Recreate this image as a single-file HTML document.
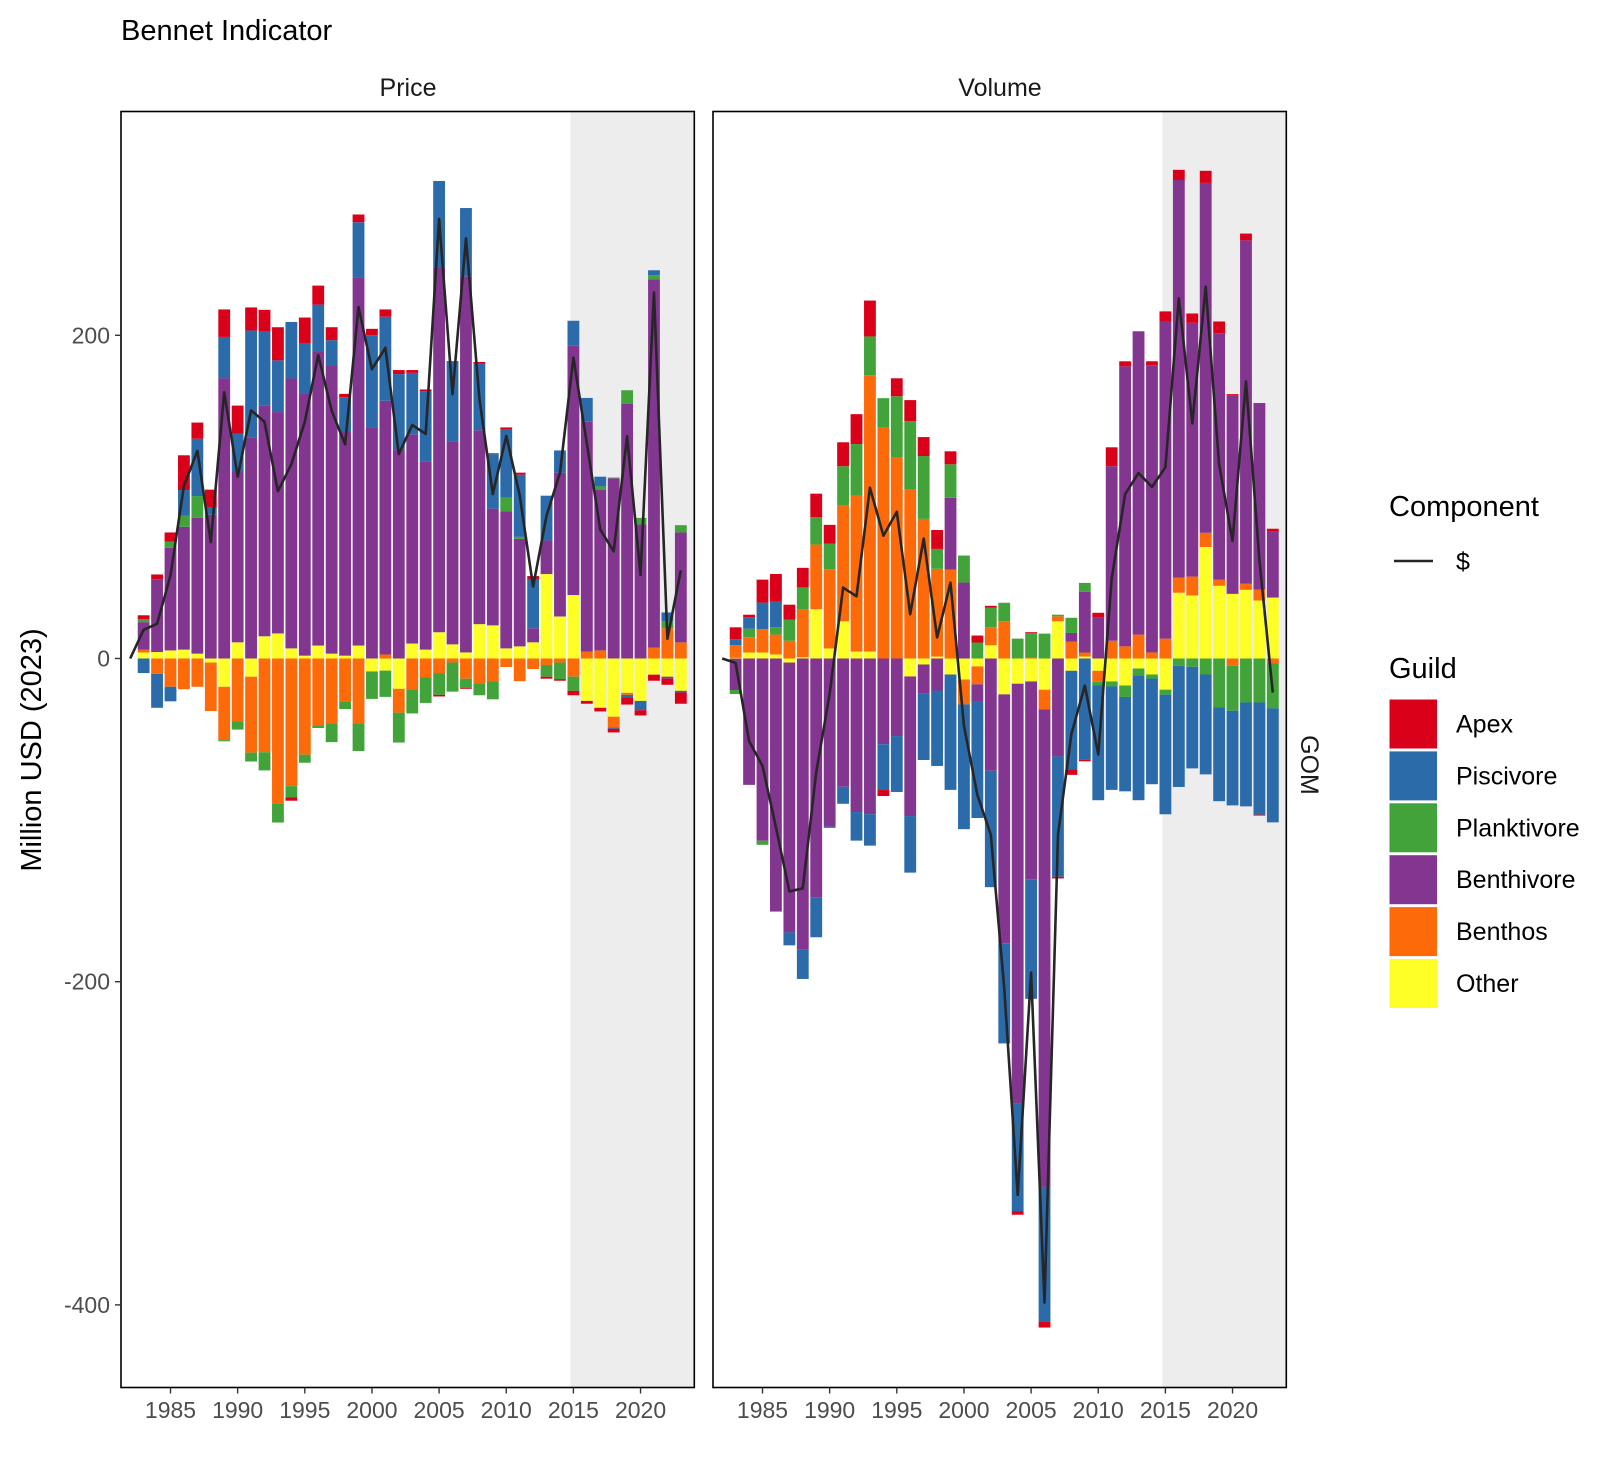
<!DOCTYPE html>
<html><head><meta charset="utf-8"><title>Bennet Indicator</title>
<style>
html,body{margin:0;padding:0;background:#fff;}
svg{display:block;font-family:"Liberation Sans",Arial,sans-serif;}
</style></head>
<body>
<svg id="chart" width="1620" height="1458" viewBox="0 0 1620 1458" xmlns="http://www.w3.org/2000/svg">
  <rect x="0" y="0" width="1620" height="1458" fill="#fff"/>
  <text x="121" y="40" font-size="29" fill="#000">Bennet Indicator</text>
  <text x="408" y="96" font-size="25" fill="#1a1a1a" text-anchor="middle">Price</text>
  <text x="1000" y="96" font-size="25" fill="#1a1a1a" text-anchor="middle">Volume</text>
  <text transform="translate(41,750) rotate(-90)" font-size="29" fill="#000" text-anchor="middle">Million USD (2023)</text>
  <text transform="translate(1301,765) rotate(90)" font-size="25" fill="#1a1a1a" text-anchor="middle">GOM</text>
  <g id="panels"></g>
  <g>
    <text x="1389" y="516" font-size="29" fill="#000">Component</text>
    <line x1="1394" y1="561" x2="1433" y2="561" stroke="#262626" stroke-width="2.5"/>
    <text x="1456" y="570" font-size="25" fill="#000">$</text>
    <text x="1389" y="678" font-size="29" fill="#000">Guild</text>
    <g id="guild-legend"></g>
  </g>
</svg>
<script>
const years = [];
for (let y = 1982; y <= 2023; y++) years.push(y);
const guilds = ["Apex","Piscivore","Planktivore","Benthivore","Benthos","Other"];
const yTicks = [200, 0, -200, -400];
const xTicks = [1985, 1990, 1995, 2000, 2005, 2010, 2015, 2020];
const shadeStartYear = 2015;

const priceApex = [0,2.5,3,5.75,21.5,10,10.75,17,17.5,14.25,13.5,20.5,-2,15.75,11.75,8,2,4.75,4,4.5,2.5,1.75,1,-1,0.5,-0.5,1,0.5,1.25,1.25,2.25,-1.25,-1,-2.75,-1.75,-2.25,-2.25,-4.5,-3.25,-3.75,-3.75,-7];
const pricePiscivore = [0,-9,-21,-9,15.75,35.5,4.75,25.5,23,66.5,45.5,32,35,31,29,16,21,34,57,52,47,38,43.5,53.5,49,42.25,41.25,33.75,42.25,38.5,30,27.75,13.75,15.5,14.75,6,-0.75,-1.5,-5.75,3,5.5,-1];
const pricePlanktivore = [0,1.75,0,3.75,7,13.5,0,-0.75,-5,-5.5,-11.25,-11.5,-7,-5,-1.5,-11.75,-4.75,-17.25,-17,-16.25,-18.5,-15,-16,-13.5,-18,-5.75,-7.25,-11.25,8.5,1.25,0,-7.25,-10.25,-8.75,0,2,0.5,8.5,4,2.75,4.25,4.5];
const priceBenthivore = [0,17,45,63.5,76,84,89,173.5,106,136.5,143,137,167,162.5,182,178,139,228,143,157,129,129.5,116.5,225.75,125.75,232.75,120,72.25,84.75,66.5,8.75,20.75,89,154.25,142.25,99.5,111.5,157.5,83,227.75,-1.25,68];
const priceBenthos = [0,1.75,-9.5,-17.5,-19,-17.5,-30,-33,-39,-47,-58,-90,-79,-59.5,-41.5,-40,-26.5,-40,0,2.5,-14.75,-19,-11.5,-9,-2.5,-12.5,-15.5,-14,-5.25,-14,-6.5,-4,-2.5,-11.25,4.25,5,-6.75,-1.25,0,6.75,18.75,10];
const priceOther = [0,3.75,4,5,5.5,3,-2.5,-17.5,10,-11.25,13.75,15.5,6.25,1.75,8,3,1.75,8,-8,-7.5,-18.75,9.25,5.5,16.25,8.75,3.75,21.25,20.5,6.25,7.5,10,52.25,26,39.25,-26.25,-30.5,-36,-21.25,-26.25,-10,-11.25,-20];

const volApex = [0,7.4,1.6,14.2,17,9.3,12.1,14.6,11.7,14.8,18.5,22.2,-3.7,11.1,13,11.7,11.7,8,0,4.3,1.2,0,-2,0.5,-3.4,-1,-3.4,-1,3.1,11.7,3.1,0,2.5,6.3,6.3,5.8,7.5,7.3,0.6,4.2,-0.6,1.9];
const volPiscivore = [0,3.7,7,16.5,16,-8,-18.3,-24.5,-0.8,-10.5,-17.7,-19.5,-28.4,-34.6,-35,-41.4,-46.7,-71.4,-77.2,-72.4,-72,-62,-66.6,-74,-83.6,-74.5,-61,-62.6,-71,-64,-58.4,-77.3,-65.4,-74,-75,-62.9,-61.8,-58,-58.6,-64.3,-69.4,-70.5];
const volPlanktivore = [0,-2.5,5.3,-2.5,4.5,13,13.6,16.9,15.8,24,31.9,24,18.3,38,42.4,38.9,12.3,20.8,16.7,9.9,12.1,11.5,12.3,15.2,15.4,1,9.4,5.6,-2.3,-3.1,-7.1,-4.2,-2.5,-3.1,-4.5,-5.1,-9.9,-30.3,-27.8,-27.2,-27.2,-27.8];
const volBenthivore = [0,-19.5,-78.2,-112.8,-156.6,-167,-180,-148,-104,-79.4,-95,-96.3,-53,-48,-86.4,-17.7,-19.8,44.4,47,-10.3,-69.5,-154,-260,-122.4,-295.5,-60.6,5.4,37.5,25.2,108,173.3,187.7,177.7,196.2,246,157,216.5,152.5,123,212.5,115.5,40.7];
const volBenthos = [0,7.8,9.5,14.4,12.3,11,29.6,40,49,72,96.5,171,142.8,124.3,104.5,86.4,54.3,55,-15.4,-11.1,11.1,23,0,0.6,-12.2,3.1,10.4,2.5,-6.8,11,7.5,14.8,3.75,12.3,9.4,11.7,8.8,3.75,-4.5,3.75,6.7,-3.1];
const volOther = [0,0.4,3.7,3.7,2.5,-2.5,0.8,30.5,6.2,23,4.3,4.3,0,0,-11.1,-3.7,1.2,-9.9,-13,-4.9,8.2,-22.2,-15.6,-14.2,-19.3,23,-7.6,1.2,-7.6,-14.2,-16.7,-6.2,-9.9,-19.3,40.7,39,69,45,40,42.5,35.9,37.7];

const colors = {Apex:"#DB0019",Piscivore:"#2C6BAA",Planktivore:"#41A33A",Benthivore:"#83368F",Benthos:"#FC6A0A",Other:"#FDFF27"};
const NS = "http://www.w3.org/2000/svg";
const panelTop = 111.5, panelBottom = 1387.5, panelW = 573.3;
const yearStep = 13.43;
function yScale(v){ return 658.5 - v * 1.616; }
function xScale(left, yr){ return left + 49.5 + (yr - 1985) * yearStep; }
function mk(tag, attrs, parent){
  const e = document.createElementNS(NS, tag);
  for (const k in attrs) e.setAttribute(k, attrs[k]);
  parent.appendChild(e); return e;
}
const panelsG = document.getElementById('panels');
const panels = [
  {name:"price", left:121, series:{Apex:priceApex,Piscivore:pricePiscivore,Planktivore:pricePlanktivore,Benthivore:priceBenthivore,Benthos:priceBenthos,Other:priceOther}},
  {name:"volume", left:713, series:{Apex:volApex,Piscivore:volPiscivore,Planktivore:volPlanktivore,Benthivore:volBenthivore,Benthos:volBenthos,Other:volOther}}
];
const stackOrder = ["Other","Benthos","Benthivore","Planktivore","Piscivore","Apex"];
const barW = yearStep * 0.88;
panels.forEach((p, pi) => {
  const g = mk('g', {}, panelsG);
  
  
  const right = p.left + panelW;
  const sx = xScale(p.left, shadeStartYear) - 3;
  const shade = mk('rect', {x:sx, y:panelTop, width:right - sx, height:panelBottom - panelTop, fill:"#ededed"}, g);
  
  
  years.forEach((yr, i) => {
    let pos = 0, neg = 0;
    const cx = xScale(p.left, yr);
    stackOrder.forEach(gn => {
      const v = p.series[gn][i];
      if (!v) return;
      let y0, y1;
      if (v > 0) { y0 = pos; y1 = pos + v; pos = y1; }
      else { y0 = neg; y1 = neg + v; neg = y1; }
      const top = yScale(Math.max(y0, y1)), bot = yScale(Math.min(y0, y1));
      const r = mk('rect', {x:cx - barW / 2, y:top, width:barW, height:Math.max(bot - top, 0.3), fill:colors[gn]}, g);
      
      
    });
  });
  const pts = years.map((yr, i) => {
    let s = 0; guilds.forEach(gn => s += p.series[gn][i]);
    return xScale(p.left, yr).toFixed(1) + ',' + yScale(s).toFixed(1);
  }).join(' ');
  const line = mk('polyline', {points:pts, fill:"none", stroke:"#262626", "stroke-width":2.6, "stroke-linejoin":"round"}, g);
  
  
  const border = mk('rect', {x:p.left, y:panelTop, width:panelW, height:panelBottom - panelTop, fill:"none", stroke:"#000", "stroke-width":1.6}, g);
  
  
  xTicks.forEach(t => {
    const x = xScale(p.left, t);
    const tk = mk('line', {x1:x, y1:panelBottom, x2:x, y2:panelBottom + 6, stroke:"#333", "stroke-width":1.4}, g);
    
    
    const tl = mk('text', {x:x, y:1418, "font-size":23, fill:"#4d4d4d", "text-anchor":"middle"}, g);
    tl.textContent = t;
    
    
  });
  if (pi === 0) {
    yTicks.forEach(t => {
      const y = yScale(t);
      const tk = mk('line', {x1:p.left - 6, y1:y, x2:p.left, y2:y, stroke:"#333", "stroke-width":1.4}, g);
      
      
      const tl = mk('text', {x:p.left - 11, y:y + 8, "font-size":23, fill:"#4d4d4d", "text-anchor":"end"}, g);
      tl.textContent = t;
      
      
    });
  }
});
const lg = document.getElementById('guild-legend');
guilds.forEach((gn, i) => {
  const y = 699.5 + i * 51.9;
  const r = mk('rect', {x:1389.5, y:y, width:47.5, height:49, fill:colors[gn]}, lg);
  
  
  const t = mk('text', {x:1456, y:y + 33, "font-size":25, fill:"#000"}, lg);
  t.textContent = gn;
  
  
});
</script>
</body></html>
